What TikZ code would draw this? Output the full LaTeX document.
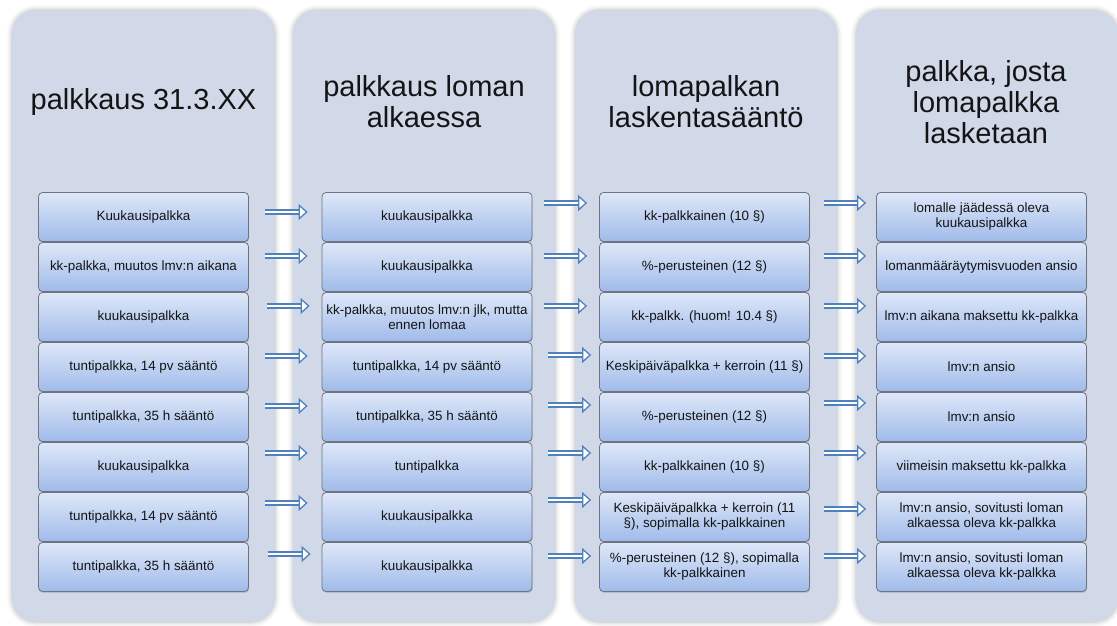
\documentclass[tikz,border=0pt]{standalone}
\usepackage{fontspec}
\setmainfont{Liberation Sans}
\usetikzlibrary{arrows.meta,shadows,shadows.blur}

\definecolor{panelfill}{RGB}{209,216,231}
\definecolor{boxtop}{RGB}{222,231,248}
\definecolor{boxbottom}{RGB}{160,187,234}
\definecolor{boxline}{RGB}{110,116,128}
\definecolor{arrowblue}{RGB}{79,129,189}
\definecolor{inkgray}{RGB}{20,20,20}

\begin{document}
\begin{tikzpicture}[x=1pt, y=-1pt,
	panel/.style={fill=panelfill, rounded corners=24pt,
		blur shadow={shadow xshift=0pt, shadow yshift=0pt, shadow blur radius=5pt, shadow opacity=30}},
	head/.style={align=center, text=inkgray, font=\fontsize{29}{31}\selectfont},
	cell/.style={draw=boxline, line width=.8pt, rounded corners=4pt, top color=boxtop, bottom color=boxbottom,
		minimum width=210pt, minimum height=49pt, inner sep=0pt, align=center, text=inkgray,
		font=\fontsize{13.4}{15}\selectfont, drop shadow={opacity=.3, shadow xshift=.6pt, shadow yshift=-1.4pt}},
	flow/.style={draw=arrowblue, line width=1.3pt, double=white, double distance=2.6pt,
		-{Triangle[open, fill=white, length=9pt, width=16pt, line width=1.3pt]}}]
	\useasboundingbox (0,0) rectangle (1117,626);
	\path[panel] (12,10)  rectangle (275,622);
	\path[panel] (293,10) rectangle (555,622);
	\path[panel] (575,10) rectangle (837,622);
	\path[panel] (856,10) rectangle (1118,622);
	\node[head] (ta) at (143.5,102) {palkkaus 31.3.XX};
	\node[head] (tb) at (424,102)   {palkkaus loman\\alkaessa};
	\node[head] (tc) at (706,102)   {lomapalkan\\laskentasääntö};
	\node[head] (td) at (986,102)   {palkka, josta\\lomapalkka\\lasketaan};
	%palkkaus 31.3.
	\node[cell] (a1) at (143.5,217) {Kuukausipalkka};
	\node[cell] (a2) at (143.5,267) {kk-palkka, muutos lmv:n aikana};
	\node[cell] (a3) at (143.5,317) {kuukausipalkka};
	\node[cell] (a4) at (143.5,367) {tuntipalkka, 14 pv sääntö};
	\node[cell] (a5) at (143.5,417) {tuntipalkka, 35 h sääntö};
	\node[cell] (a6) at (143.5,467) {kuukausipalkka};
	\node[cell] (a7) at (143.5,517) {tuntipalkka, 14 pv sääntö};
	\node[cell] (a8) at (143.5,567) {tuntipalkka, 35 h sääntö};
	%loman alkaessa
	\node[cell] (b1) at (427,217) {kuukausipalkka};
	\node[cell] (b2) at (427,267) {kuukausipalkka};
	\node[cell] (b3) at (427,317) {kk-palkka, muutos lmv:n jlk, mutta\\ennen lomaa};
	\node[cell] (b4) at (427,367) {tuntipalkka, 14 pv sääntö};
	\node[cell] (b5) at (427,417) {tuntipalkka, 35 h sääntö};
	\node[cell] (b6) at (427,467) {tuntipalkka};
	\node[cell] (b7) at (427,517) {kuukausipalkka};
	\node[cell] (b8) at (427,567) {kuukausipalkka};
	%sääntö
	\node[cell] (c1) at (704.5,217) {kk-palkkainen (10 §)};
	\node[cell] (c2) at (704.5,267) {\%-perusteinen (12 §)};
	\node[cell] (c3) at (704.5,317) {kk-palkk. (huom! 10.4 §)};
	\node[cell] (c4) at (704.5,367) {Keskipäiväpalkka + kerroin (11 §)};
	\node[cell] (c5) at (704.5,417) {\%-perusteinen (12 §)};
	\node[cell] (c6) at (704.5,467) {kk-palkkainen (10 §)};
	\node[cell] (c7) at (704.5,517) {Keskipäiväpalkka + kerroin (11\\§), sopimalla kk-palkkainen};
	\node[cell] (c8) at (704.5,567) {\%-perusteinen (12 §), sopimalla\\kk-palkkainen};
	%laskettava palkka
	\node[cell] (d1) at (981.5,217) {lomalle jäädessä oleva\\kuukausipalkka};
	\node[cell] (d2) at (981.5,267) {lomanmääräytymisvuoden ansio};
	\node[cell] (d3) at (981.5,317) {lmv:n aikana maksettu kk-palkka};
	\node[cell] (d4) at (981.5,367) {lmv:n ansio};
	\node[cell] (d5) at (981.5,417) {lmv:n ansio};
	\node[cell] (d6) at (981.5,467) {viimeisin maksettu kk-palkka};
	\node[cell] (d7) at (981.5,517) {lmv:n ansio, sovitusti loman\\alkaessa oleva kk-palkka};
	\node[cell] (d8) at (981.5,567) {lmv:n ansio, sovitusti loman\\alkaessa oleva kk-palkka};
	%pfeile
	\draw[flow, shorten <=16pt, shorten >=14pt] (a1.east |- 0,212) -- (b1.west |- 0,212);
	\draw[flow, shorten <=16pt, shorten >=14pt] (a2.east |- 0,256) -- (b2.west |- 0,256);
	\draw[flow, shorten <=18pt, shorten >=12pt] (a3.east |- 0,306) -- (b3.west |- 0,306);
	\draw[flow, shorten <=16pt, shorten >=14pt] (a4.east |- 0,356) -- (b4.west |- 0,356);
	\draw[flow, shorten <=16pt, shorten >=14pt] (a5.east |- 0,406) -- (b5.west |- 0,406);
	\draw[flow, shorten <=16pt, shorten >=14pt] (a6.east |- 0,453) -- (b6.west |- 0,453);
	\draw[flow, shorten <=16pt, shorten >=14pt] (a7.east |- 0,503) -- (b7.west |- 0,503);
	\draw[flow, shorten <=19pt, shorten >=11pt] (a8.east |- 0,554) -- (b8.west |- 0,554);
	\draw[flow, shorten <=12pt, shorten >=12pt] (b1.east |- 0,203) -- (c1.west |- 0,203);
	\draw[flow, shorten <=12pt, shorten >=12pt] (b2.east |- 0,256) -- (c2.west |- 0,256);
	\draw[flow, shorten <=12pt, shorten >=12pt] (b3.east |- 0,306) -- (c3.west |- 0,306);
	\draw[flow, shorten <=16pt, shorten >=8pt]  (b4.east |- 0,355) -- (c4.west |- 0,355);
	\draw[flow, shorten <=16pt, shorten >=8pt]  (b5.east |- 0,405) -- (c5.west |- 0,405);
	\draw[flow, shorten <=16pt, shorten >=8pt]  (b6.east |- 0,453) -- (c6.west |- 0,453);
	\draw[flow, shorten <=16pt, shorten >=8pt]  (b7.east |- 0,500) -- (c7.west |- 0,500);
	\draw[flow, shorten <=16pt, shorten >=8pt]  (b8.east |- 0,556) -- (c8.west |- 0,556);
	\draw[flow, shorten <=14pt, shorten >=10pt] (c1.east |- 0,203) -- (d1.west |- 0,203);
	\draw[flow, shorten <=14pt, shorten >=10pt] (c2.east |- 0,256) -- (d2.west |- 0,256);
	\draw[flow, shorten <=14pt, shorten >=10pt] (c3.east |- 0,306) -- (d3.west |- 0,306);
	\draw[flow, shorten <=14pt, shorten >=10pt] (c4.east |- 0,356) -- (d4.west |- 0,356);
	\draw[flow, shorten <=14pt, shorten >=10pt] (c5.east |- 0,403) -- (d5.west |- 0,403);
	\draw[flow, shorten <=14pt, shorten >=10pt] (c6.east |- 0,453) -- (d6.west |- 0,453);
	\draw[flow, shorten <=14pt, shorten >=10pt] (c7.east |- 0,509) -- (d7.west |- 0,509);
	\draw[flow, shorten <=14pt, shorten >=10pt] (c8.east |- 0,556) -- (d8.west |- 0,556);
\end{tikzpicture}
\end{document}
